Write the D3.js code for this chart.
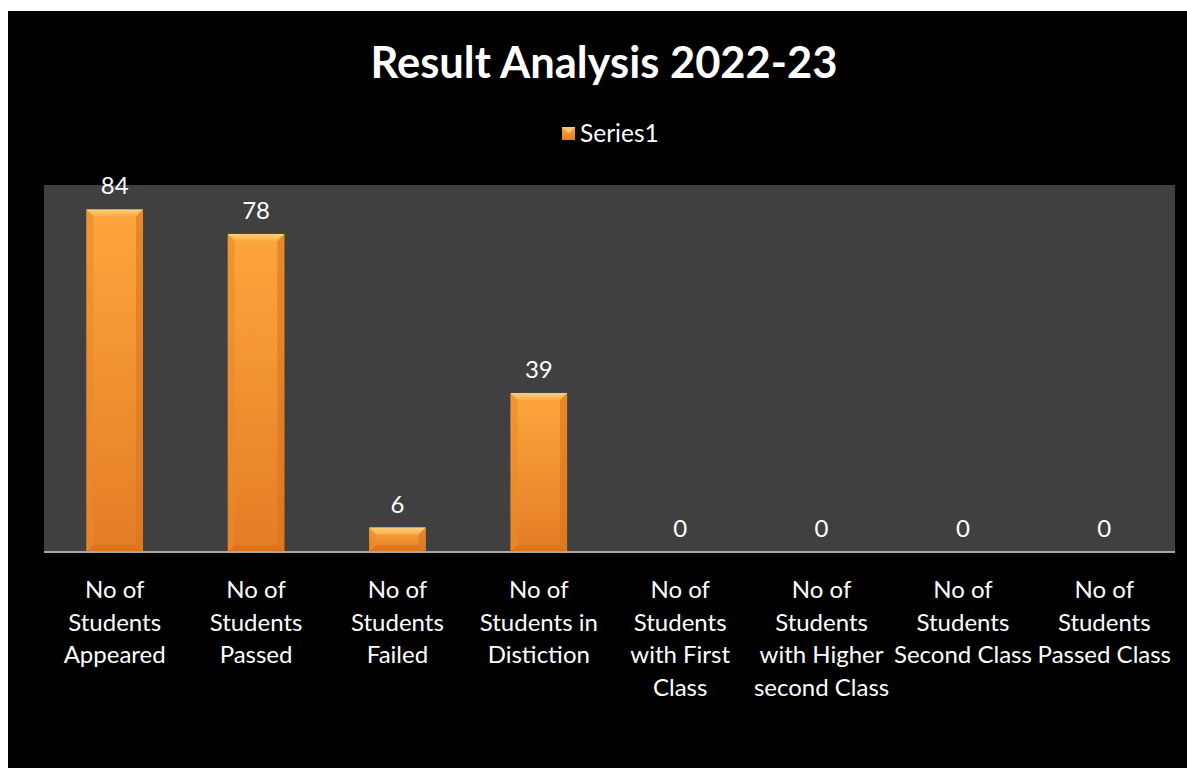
<!DOCTYPE html>
<html><head><meta charset="utf-8">
<script src="https://cdn.jsdelivr.net/npm/d3@7"></script>
<style>html,body{margin:0;padding:0;background:#fff;}svg{display:block;}</style>
</head><body>
<script>
const title = "Result Analysis 2022-23";
const seriesName = "Series1";
const categories = [
  "No of\nStudents\nAppeared",
  "No of\nStudents\nPassed",
  "No of\nStudents\nFailed",
  "No of\nStudents in\nDistiction",
  "No of\nStudents\nwith First\nClass",
  "No of\nStudents\nwith Higher\nsecond Class",
  "No of\nStudents\nSecond Class",
  "No of\nStudents\nPassed Class"
];
const values = [84, 78, 6, 39, 0, 0, 0, 0];
const yDomain = [0, 90];

const W = 1187, H = 768;
const svg = d3.select("body").append("svg").attr("width", W).attr("height", H);
const defs = svg.append("defs");
const g1 = defs.append("linearGradient").attr("id","barG").attr("x1",0).attr("y1",0).attr("x2",0).attr("y2",1);
g1.append("stop").attr("offset","0%").attr("stop-color","#fda63c");
g1.append("stop").attr("offset","100%").attr("stop-color","#e47c26");
const g2 = defs.append("linearGradient").attr("id","topG").attr("x1",0).attr("y1",0).attr("x2",0).attr("y2",1);
g2.append("stop").attr("offset","0%").attr("stop-color","#fdd07a");
g2.append("stop").attr("offset","100%").attr("stop-color","#fbae48");

svg.append("rect").attr("x",8).attr("y",11).attr("width",W-8).attr("height",H-11).attr("fill","#000");

const plot = {l:44, r:1175, t:185, b:552};
svg.append("rect").attr("x",plot.l).attr("y",plot.t).attr("width",plot.r-plot.l).attr("height",plot.b-plot.t).attr("fill","#404040");

const x = d3.scaleBand().domain(categories).range([plot.l, plot.r]).paddingInner(0.6).paddingOuter(0.3);
const y = d3.scaleLinear().domain(yDomain).range([plot.b, plot.t]);

const font = "Lato, 'Open Sans', sans-serif";
svg.append("text").attr("x", 604).attr("y", 78).attr("text-anchor","middle")
  .attr("font-family", font).attr("font-weight","bold").attr("font-size", 43.5).attr("fill","#fff").text(title);

// legend
const lg = svg.append("g");
lg.append("rect").attr("x",562).attr("y",127).attr("width",13).attr("height",13).attr("fill","url(#barG)");
lg.append("path").attr("d","M562,127 L575,127 L568.5,133.5 Z").attr("fill","#fdc46a");
lg.append("text").attr("x",580).attr("y",142).attr("font-family",font).attr("font-size",24.5).attr("fill","#fff").text(seriesName);

const bars = svg.append("g");
categories.forEach((c,i) => {
  const v = values[i];
  const bx = x(c), bw = x.bandwidth(), by = y(v), bh = y(0) - y(v);
  if (bh > 0) {
    const g = bars.append("g");
    g.append("rect").attr("x",bx).attr("y",by).attr("width",bw).attr("height",bh).attr("fill","url(#barG)");
    const bv = Math.min(7, bh/2);
    g.append("path").attr("d",`M${bx},${by} L${bx+bw},${by} L${bx+bw-bv},${by+bv} L${bx+bv},${by+bv} Z`).attr("fill","url(#topG)");
    g.append("path").attr("d",`M${bx},${by} L${bx+bv},${by+bv} L${bx+bv},${by+bh-bv} L${bx},${by+bh} Z`).attr("fill","#e88a2a").attr("opacity",0.6);
    g.append("path").attr("d",`M${bx+bw},${by} L${bx+bw-bv},${by+bv} L${bx+bw-bv},${by+bh-bv} L${bx+bw},${by+bh} Z`).attr("fill","#d9741e").attr("opacity",0.6);
    g.append("path").attr("d",`M${bx},${by+bh} L${bx+bv},${by+bh-bv} L${bx+bw-bv},${by+bh-bv} L${bx+bw},${by+bh} Z`).attr("fill","#cf6c1c").attr("opacity",0.5);
  }
  svg.append("text").attr("x", bx + bw/2).attr("y", by - 15).attr("text-anchor","middle")
    .attr("font-family",font).attr("font-size",24).attr("fill","#fff").text(v);
});

// axis
const axis = svg.append("g").attr("transform",`translate(0,${plot.b})`).call(d3.axisBottom(x).tickSize(0).tickFormat(""));
axis.select(".domain").attr("stroke","#a6a6a6").attr("stroke-width",2).attr("d",`M${plot.l},0H${plot.r}`);

categories.forEach(c => {
  const t = svg.append("text").attr("text-anchor","middle").attr("font-family",font).attr("font-size",24).attr("fill","#fff");
  c.split("\n").forEach((ln,j) => {
    t.append("tspan").attr("x", x(c)+x.bandwidth()/2).attr("y", 598 + j*32.5).text(ln);
  });
});
</script>
</body></html>
